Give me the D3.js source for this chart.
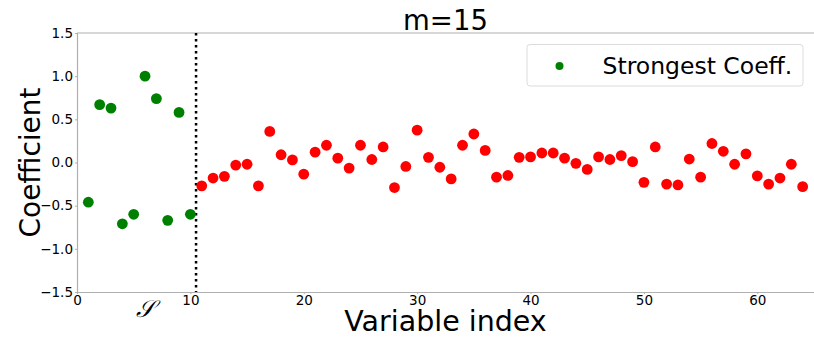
<!DOCTYPE html>
<html>
<head>
<meta charset="utf-8">
<script src="https://cdn.jsdelivr.net/npm/d3@7"></script>
<style>
  body { margin: 0; background: #fff; }
  text { font-family: "DejaVu Sans", sans-serif; fill: #000; }
</style>
</head>
<body>
<div id="chart"></div>
<script>
// strongest coefficients (support set S), index 1..10
const strongIdx = [1, 2, 3, 4, 5, 6, 7, 8, 9, 10];
const strongVals = [-0.46, 0.67, 0.63, -0.71, -0.60, 1.00, 0.74, -0.67, 0.58, -0.60];

// remaining coefficients, index 11..64
const restIdx = d3.range(11, 65);
const restVals = [
  -0.27, -0.18, -0.16, -0.03, -0.02, -0.27, 0.36, 0.09, 0.03, -0.135,
  0.12, 0.20, 0.05, -0.065, 0.20, 0.035, 0.18, -0.29, -0.046, 0.375,
  0.06, -0.055, -0.19, 0.20, 0.33, 0.14, -0.17, -0.15, 0.06, 0.065,
  0.11, 0.11, 0.05, -0.01, -0.08, 0.065, 0.035, 0.08, 0.01, -0.23,
  0.18, -0.25, -0.26, 0.04, -0.17, 0.22, 0.13, -0.02, 0.10, -0.155,
  -0.25, -0.18, -0.02, -0.28
];

const xTicks = [0, 10, 20, 30, 40, 50, 60];
const yTicks = [-1.5, -1.0, -0.5, 0.0, 0.5, 1.0, 1.5];
const splitAt = 10.5;

const width = 814, height = 337;
const margin = { top: 33, right: 0, bottom: 45, left: 77 };

const svg = d3.select('#chart').append('svg')
  .attr('width', width)
  .attr('height', height);

const x = d3.scaleLinear().domain([0, 65]).range([margin.left, width - margin.right]);
const y = d3.scaleLinear().domain([-1.5, 1.5]).range([height - margin.bottom, margin.top]);

const fmt = d => d3.format('.1f')(d).replace('-', '\u2212');

// axes
const xAxis = svg.append('g')
  .attr('transform', `translate(0,${y(-1.5)})`)
  .call(d3.axisBottom(x).tickValues(xTicks).tickSize(2).tickPadding(1.5).tickFormat(d3.format('d')));
const yAxis = svg.append('g')
  .attr('transform', `translate(${x(0)},0)`)
  .call(d3.axisLeft(y).tickValues(yTicks).tickSize(2).tickPadding(2).tickFormat(fmt));

[xAxis, yAxis].forEach(a => {
  a.select('.domain').attr('stroke', '#b0b0b0').attr('stroke-width', 1.2);
  a.selectAll('.tick line').attr('stroke', '#b0b0b0');
  a.selectAll('.tick text').style('font-size', '13.5px').attr('fill', '#111');
});

// top spine
svg.append('line')
  .attr('x1', x(0)).attr('x2', width)
  .attr('y1', y(1.5)).attr('y2', y(1.5))
  .attr('stroke', '#b0b0b0').attr('stroke-width', 1.2);

// split line
svg.append('line')
  .attr('x1', x(splitAt)).attr('x2', x(splitAt))
  .attr('y1', y(1.5)).attr('y2', y(-1.5))
  .attr('stroke', '#000').attr('stroke-width', 2.5)
  .attr('stroke-dasharray', '2.5,3.5');

// points
svg.append('g').selectAll('circle')
  .data(restIdx.map((d, i) => [d, restVals[i]]))
  .join('circle')
  .attr('cx', d => x(d[0]))
  .attr('cy', d => y(d[1]))
  .attr('r', 5.4)
  .attr('fill', '#ff0000');

svg.append('g').selectAll('circle')
  .data(strongIdx.map((d, i) => [d, strongVals[i]]))
  .join('circle')
  .attr('cx', d => x(d[0]))
  .attr('cy', d => y(d[1]))
  .attr('r', 5.4)
  .attr('fill', '#008000');

// title + labels
svg.append('text')
  .attr('x', (x(0) + x(65)) / 2).attr('y', 30)
  .attr('text-anchor', 'middle')
  .style('font-size', '27.5px')
  .text('m=15');

svg.append('text')
  .attr('x', (x(0) + x(65)) / 2).attr('y', 331)
  .attr('text-anchor', 'middle')
  .style('font-size', '28.5px')
  .text('Variable index');

svg.append('text')
  .attr('transform', `translate(40,${y(0)}) rotate(-90)`)
  .attr('text-anchor', 'middle')
  .style('font-size', '28px')
  .text('Coefficient');

svg.append('text')
  .attr('x', x(6)).attr('y', 317)
  .attr('text-anchor', 'middle')
  .style('font-family', '"DejaVu Serif", serif')
  .style('font-style', 'italic')
  .style('font-size', '24px')
  .text('\uD835\uDCAE');

// legend
const lg = svg.append('g');
lg.append('rect')
  .attr('x', 527).attr('y', 44.5)
  .attr('width', 276).attr('height', 41.5)
  .attr('rx', 3)
  .attr('fill', '#fff')
  .attr('stroke', '#dcdcdc');
lg.append('circle')
  .attr('cx', 559.5).attr('cy', 66)
  .attr('r', 4)
  .attr('fill', '#008000');
lg.append('text')
  .attr('x', 602.5).attr('y', 74)
  .style('font-size', '23.5px')
  .text('Strongest Coeff.');
</script>
</body>
</html>
